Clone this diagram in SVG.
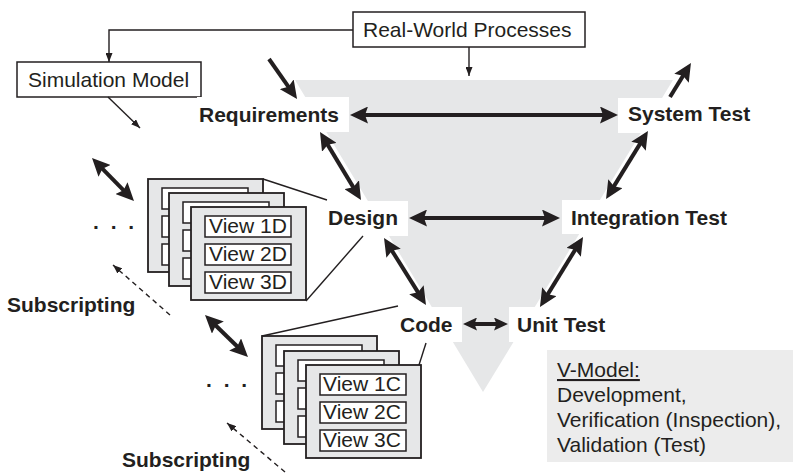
<svg xmlns="http://www.w3.org/2000/svg" width="793" height="474" viewBox="0 0 793 474">
<style>
text{font-family:"Liberation Sans",Arial,sans-serif;font-size:21px;fill:#231f20}
.b{font-weight:bold}
.box{fill:#fff;stroke:#231f20;stroke-width:1.5}
.lbl{fill:#fff}
.sheet{fill:#e6e7e8;stroke:#231f20;stroke-width:1.8}
.vbox{fill:#fff;stroke:#231f20;stroke-width:1.5}
.thick{stroke:#231f20;stroke-width:4;fill:none}
.thin{stroke:#231f20;stroke-width:1.4;fill:none}
.dash{stroke:#231f20;stroke-width:1.4;fill:none;stroke-dasharray:5 4}
</style>
<defs>
<marker id="big" markerUnits="userSpaceOnUse" viewBox="0 0 18 17" markerWidth="18" markerHeight="17" refX="12" refY="8.5" orient="auto-start-reverse"><path d="M0,0 L18,8.5 L0,17 L3,8.5 z" fill="#231f20"/></marker>
<marker id="mid" markerUnits="userSpaceOnUse" viewBox="0 0 14 13" markerWidth="14" markerHeight="13" refX="9" refY="6.5" orient="auto-start-reverse"><path d="M0,0 L14,6.5 L0,13 L2.5,6.5 z" fill="#231f20"/></marker>
<marker id="small" markerUnits="userSpaceOnUse" viewBox="0 0 9 7" markerWidth="9" markerHeight="7" refX="9" refY="3.5" orient="auto"><path d="M0,0 L9,3.5 L0,7 z" fill="#231f20"/></marker>
<symbol id="sheetD" overflow="visible"><rect class="sheet" x="0" y="0" width="115" height="93"/><rect class="vbox" x="14" y="9" width="86" height="21"/><rect class="vbox" x="14" y="37" width="86" height="21"/><rect class="vbox" x="14" y="65" width="86" height="21"/></symbol>
</defs>
<rect width="793" height="474" fill="#fff"/>
<polygon id="vshape" points="295,80 673,80 483,392" fill="#e6e7e8"/>

<g id="realworld"><rect class="box" x="353" y="12" width="232" height="35"/><text x="363" y="37">Real-World Processes</text></g>
<g id="simmodel"><rect class="box" x="17" y="62" width="184" height="35"/><text x="28" y="87">Simulation Model</text></g>
<g id="requirements"><rect class="lbl" x="197" y="97" width="152" height="35"/><text class="b" x="199" y="122">Requirements</text></g>
<g id="systemtest"><rect class="lbl" x="618" y="98" width="138" height="35"/><text class="b" x="628" y="121">System Test</text></g>
<g id="design"><rect class="lbl" x="325" y="201" width="83" height="35"/><text class="b" x="328" y="225">Design</text></g>
<g id="integrationtest"><rect class="lbl" x="562" y="200" width="172" height="34"/><text class="b" x="571" y="225">Integration Test</text></g>
<g id="code"><rect class="lbl" x="396" y="307" width="66" height="35"/><text class="b" x="400" y="332">Code</text></g>
<g id="unittest"><rect class="lbl" x="509" y="307" width="102" height="35"/><text class="b" x="517" y="332">Unit Test</text></g>

<g id="viewsD">
<use href="#sheetD" x="148" y="179"/>
<use href="#sheetD" x="169" y="193"/>
<use href="#sheetD" x="191" y="207"/>
<text x="209" y="233">View 1D</text>
<text x="209" y="261">View 2D</text>
<text x="209" y="289">View 3D</text>
</g>
<g id="viewsC">
<use href="#sheetD" x="262" y="336"/>
<use href="#sheetD" x="284" y="351"/>
<use href="#sheetD" x="306" y="365"/>
<text x="323" y="391">View 1C</text>
<text x="323" y="419">View 2C</text>
<text x="323" y="447">View 3C</text>
</g>
<g id="dots1"><text class="b" x="93" y="229" letter-spacing="3">. . .</text></g>
<g id="dots2"><text class="b" x="206" y="387" letter-spacing="3">. . .</text></g>
<g id="sub1"><text class="b" x="7" y="312">Subscripting</text></g>
<g id="sub2"><text class="b" x="122" y="467">Subscripting</text></g>
<g id="vmodel"><rect x="547" y="350" width="246" height="112" fill="#ececec"/>
<text x="557" y="377" text-decoration="underline">V-Model:</text>
<text x="557" y="402">Development,</text>
<text x="557" y="427">Verification (Inspection),</text>
<text x="557" y="452">Validation (Test)</text>
</g>

<g id="connectors">
<polyline class="thin" points="353,30 109,30 109,62" marker-end="url(#small)"/>
<line class="thin" x1="469" y1="47" x2="469" y2="76" marker-end="url(#small)"/>
<line class="thin" x1="108" y1="97" x2="140" y2="128" marker-end="url(#small)"/>
<line class="dash" x1="170" y1="315" x2="113" y2="265" marker-end="url(#small)"/>
<line class="dash" x1="285" y1="472" x2="227" y2="423" marker-end="url(#small)"/>
<line class="thin" x1="263" y1="179" x2="327" y2="200"/>
<line class="thin" x1="306" y1="301" x2="363" y2="236"/>
<line class="thin" x1="262" y1="336" x2="398" y2="306"/>
<line class="thin" x1="419" y1="365" x2="426" y2="343"/>
<line class="thick" x1="356" y1="115" x2="612" y2="115" marker-start="url(#big)" marker-end="url(#big)"/>
<line class="thick" x1="415" y1="218" x2="554" y2="218" marker-start="url(#big)" marker-end="url(#big)"/>
<line class="thick" stroke-width="3.5" x1="468" y1="324" x2="503" y2="324" marker-start="url(#mid)" marker-end="url(#mid)"/>
<line class="thick" x1="323.1" y1="137.1" x2="357.9" y2="194.9" marker-start="url(#big)" marker-end="url(#big)"/>
<line class="thick" x1="387.2" y1="243.1" x2="422.8" y2="299.9" marker-start="url(#big)" marker-end="url(#big)"/>
<line class="thick" x1="579.9" y1="242.1" x2="543.1" y2="301.9" marker-start="url(#big)" marker-end="url(#big)"/>
<line class="thick" x1="609.2" y1="193.9" x2="644.8" y2="136.1" marker-start="url(#big)" marker-end="url(#big)"/>
<line class="thick" x1="670" y1="97" x2="687.8" y2="68.1" marker-end="url(#big)"/>
<line class="thick" x1="269" y1="59" x2="293.6" y2="94.1" marker-end="url(#big)"/>
<line class="thick" x1="96.2" y1="162.3" x2="129.8" y2="196.7" marker-start="url(#big)" marker-end="url(#big)"/>
<line class="thick" x1="209.3" y1="319.2" x2="243.7" y2="352.8" marker-start="url(#big)" marker-end="url(#big)"/>
</g>
</svg>
